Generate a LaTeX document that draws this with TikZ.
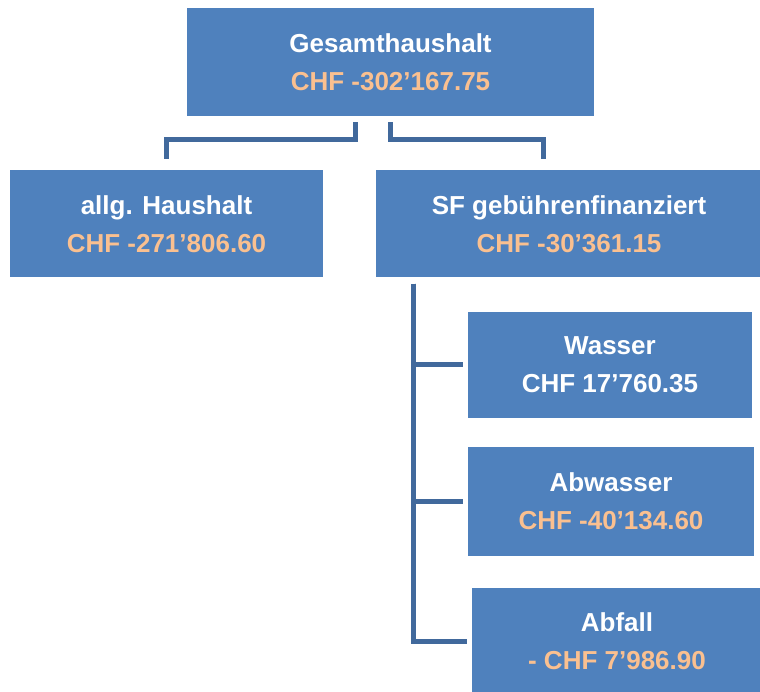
\documentclass[tikz,border=0pt]{standalone}
\usepackage{fontspec}
\setmainfont{Liberation Sans}
\usepackage{xcolor}
\usetikzlibrary{positioning, calc}

\definecolor{kasten}{HTML}{4F81BD}
\definecolor{strich}{HTML}{41699C}
\definecolor{betrag}{HTML}{FAC090}

\newcommand{\orange}[1]{{\color{betrag}#1}}

\tikzset{
	konto/.style={fill=kasten, text=white, inner sep=0pt, minimum height=107pt,
		align=center, font=\fontsize{26}{38}\selectfont\bfseries},
	linie/.style={draw=strich, line width=5pt, line join=miter}
}

\begin{document}
\begin{tikzpicture}

		\useasboundingbox (0,0) rectangle (760pt,-691pt);

		\node[konto, minimum width=407pt, minimum height=108pt] (ges) at (390.5pt,-62pt) {Gesamthaushalt\\\orange{CHF -302’167.75}};

		\node[konto, minimum width=313pt, below=54pt of ges.south, xshift=-224pt] (allg) {allg. Haushalt\\\orange{CHF -271’806.60}};

		\node[konto, minimum width=386pt, below=54pt of ges.south, xshift=178.5pt] (sf) {SF gebührenfinanziert\\\orange{CHF -30’361.15}};

		\node[konto, minimum width=284pt, minimum height=106pt, below=34pt of sf.south, xshift=41pt] (wasser) {Wasser\\CHF 17’760.35};

		\node[konto, minimum width=286pt, minimum height=109pt, below=29pt of wasser, xshift=1pt] (abwasser) {Abwasser\\\orange{CHF -40’134.60}};

		\node[konto, minimum width=290pt, below=31pt of abwasser, xshift=6pt] (abfall) {Abfall\\\orange{- CHF 7’986.90}};

		% Verbindungen
		\coordinate (k1) at ($(ges.south)+(-35.5pt,-6pt)$);
		\coordinate (k2) at ($(ges.south)+(0pt,-6pt)$);
		\coordinate (e1) at ($(allg.north)+(0pt,11pt)$);
		\coordinate (e2) at ($(sf.north)+(-26pt,11pt)$);
		\coordinate (t0) at ($(sf.south west)+(37.5pt,-6pt)$);

		\draw[linie] (k1) -- ++(0,-17.5pt) -| (e1);
		\draw[linie] (k2) -- ++(0,-17.5pt) -| (e2);

		\foreach \n in {wasser, abwasser, abfall}
			\draw[linie] (t0) |- ([xshift=-5pt]\n.west);
	\end{tikzpicture}
\end{document}
